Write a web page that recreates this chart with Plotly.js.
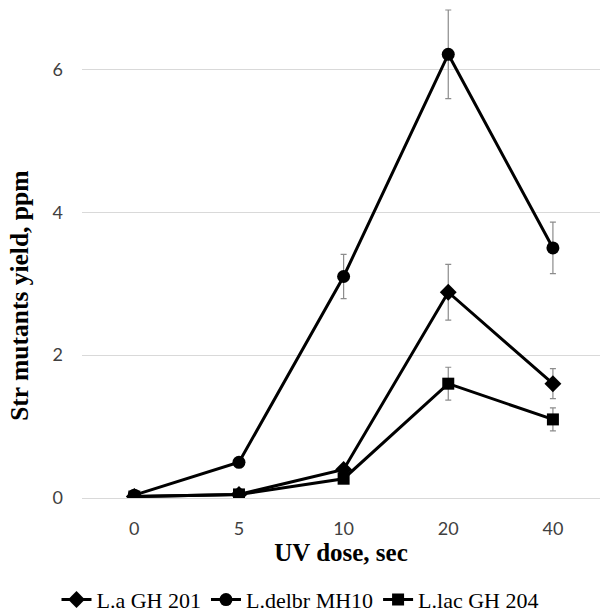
<!DOCTYPE html>
<html>
<head>
<meta charset="utf-8">
<script src="https://cdn.plot.ly/plotly-3.0.1.min.js"></script>
<style>html,body{margin:0;padding:0;background:#fff;}#chart{width:600px;height:612px;}</style>
</head>
<body>
<div id="chart"></div>
<script>
const doses = ["0", "5", "10", "20", "40"];
const seriesNames = ["L.a GH 201", "L.delbr MH10", "L.lac GH 204"];
const laGH201 = [0.02, 0.05, 0.40, 2.88, 1.60];
const laGH201Err = [0, 0, 0, 0.39, 0.21];
const delbrMH10 = [0.04, 0.50, 3.10, 6.21, 3.50];
const delbrMH10Err = [0, 0, 0.31, 0.62, 0.36];
const lacGH204 = [0.02, 0.05, 0.27, 1.60, 1.10];
const lacGH204Err = [0, 0, 0, 0.23, 0.16];
const yTicks = [0, 2, 4, 6];
const xTitle = "UV dose, sec";
const yTitle = "Str mutants yield, ppm";

const symbols = ["diamond", "circle", "square"];
const sizes = [13, 13, 12];
const vals = [laGH201, delbrMH10, lacGH204];
const errs = [laGH201Err, delbrMH10Err, lacGH204Err];

const traces = vals.map((v, i) => ({
  type: "scatter",
  mode: "lines+markers",
  name: seriesNames[i],
  x: doses,
  y: v,
  line: {color: "#000000", width: 3},
  marker: {symbol: symbols[i], size: sizes[i], color: "#000000"},
  error_y: {type: "data", array: errs[i], visible: true, color: "#8c8c8c", thickness: 1.2, width: 3}
}));

const serif = "Liberation Serif, Times New Roman, serif";
const layout = {
  width: 600, height: 612,
  paper_bgcolor: "#ffffff", plot_bgcolor: "#ffffff",
  margin: {l: 82, r: 0, t: 5, b: 114},
  showlegend: true,
  legend: {
    orientation: "h", xref: "container", yref: "container",
    x: 0.5, xanchor: "center", y: 0.02, yanchor: "middle",
    font: {family: serif, size: 22, color: "#000000"},
    itemwidth: 30, tracegroupgap: 0
  },
  xaxis: {
    type: "category",
    range: [-0.5, 4.45],
    showgrid: false, zeroline: false, showline: false,
    ticks: "", ticklabelstandoff: 18,
    tickfont: {family: "Lato, Open Sans, sans-serif", size: 18, color: "#404040"},
    title: {text: xTitle, standoff: 4,
      font: {family: serif, size: 25, color: "#000000", weight: "bold"}}
  },
  yaxis: {
    range: [0, 6.9],
    tickvals: yTicks,
    showgrid: true, gridcolor: "#d9d9d9", gridwidth: 1,
    zeroline: true, zerolinecolor: "#d9d9d9", zerolinewidth: 1,
    showline: false, ticks: "", ticklabelstandoff: 18,
    tickfont: {family: "Lato, Open Sans, sans-serif", size: 18, color: "#404040"}
  },
  annotations: [{
    text: yTitle, textangle: -90, showarrow: false,
    xref: "paper", yref: "paper", x: -0.1197, y: 0.41,
    xanchor: "center", yanchor: "middle",
    font: {family: serif, size: 25.5, color: "#000000", weight: "bold"}
  }]
};

Plotly.newPlot("chart", traces, layout, {displayModeBar: false, staticPlot: true});
</script>
</body>
</html>
